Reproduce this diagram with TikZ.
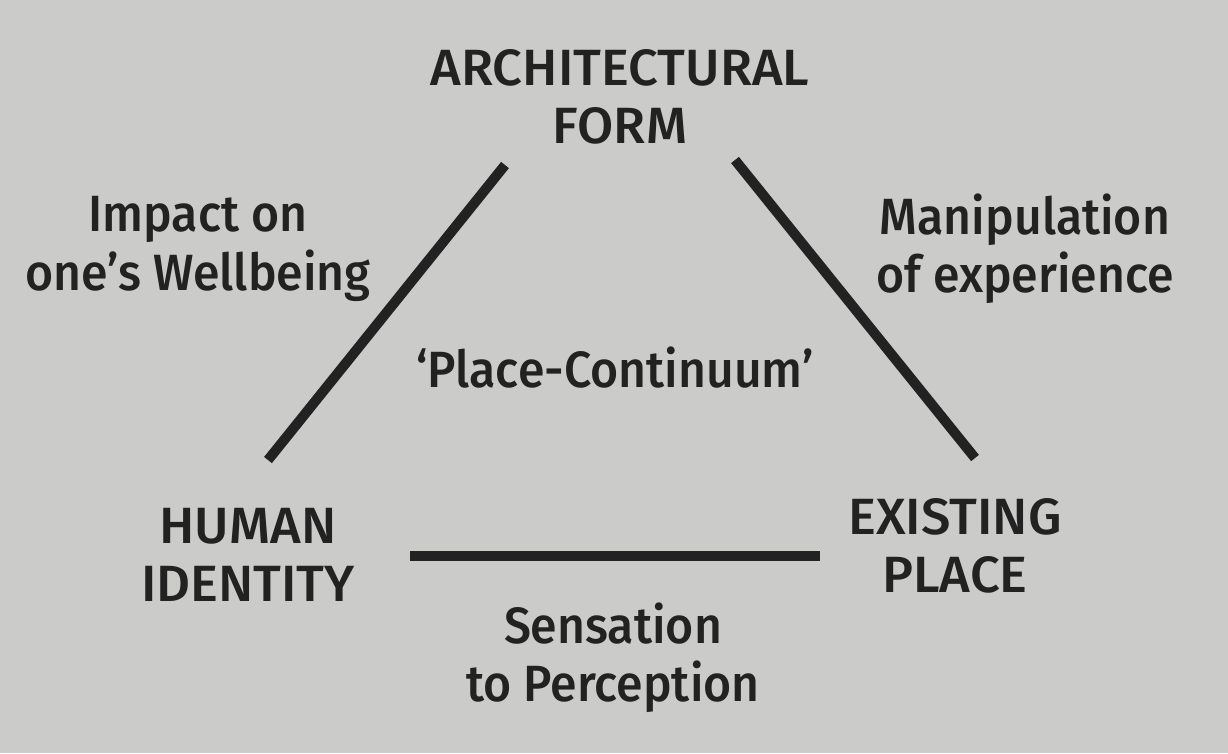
\documentclass[tikz,border=0pt]{standalone}
\usepackage{fontspec}
\IfFontExistsTF{Fira Sans Medium}{\def\lblname{Fira Sans Medium}}{\IfFontExistsTF{Fira Sans SemiBold}{\def\lblname{Fira Sans SemiBold}}{\def\lblname{Fira Sans Bold}}}
\newfontfamily\capsfont{\lblname}[FakeStretch=1.03]
\newfontfamily\lowfont{\lblname}[FakeStretch=0.945]
\definecolor{bg}{HTML}{CBCBC9}
\definecolor{ink}{HTML}{222222}
\begin{document}
\begin{tikzpicture}[x=0.01cm,y=-0.01cm,
  lbl/.style={inner sep=0pt, align=center, text=ink, font=\capsfont\fontsize{14.5}{16.6}\selectfont},
  lbllow/.style={lbl, font=\lowfont\fontsize{14.5}{16.6}\selectfont},
  edge/.style={draw=ink, line width=0.1cm, line cap=butt}]
\fill[bg] (0,0) rectangle (1228,753);
\useasboundingbox (0,0) rectangle (1228,753);
\node[lbl] (af) at (620,97) {ARCHITECTURAL\\FORM};
\node[lbl] (hi) at (248,555) {HUMAN\\IDENTITY};
\node[lbl] (ep) at (955,546) {EXISTING\\PLACE};
\node[lbllow] (pc) at (615,368) {‘Place-Continuum’};
\node[lbllow] (iw) at (198,249) {Impact on\\one’s Wellbeing};
\node[lbllow] (me) at (1025,249) {Manipulation\\of experience};
\node[lbllow] (sp) at (613,658) {Sensation\\to Perception};
\coordinate (l1) at (505,165); \coordinate (l2) at (268,460);
\coordinate (r1) at (735,160); \coordinate (r2) at (975,458);
\coordinate (b1) at (410,556); \coordinate (b2) at (820,556);
\draw[edge] (l1) -- (l2);
\draw[edge] (r1) -- (r2);
\draw[edge] (b1) -- (b2);
\end{tikzpicture}
\end{document}
